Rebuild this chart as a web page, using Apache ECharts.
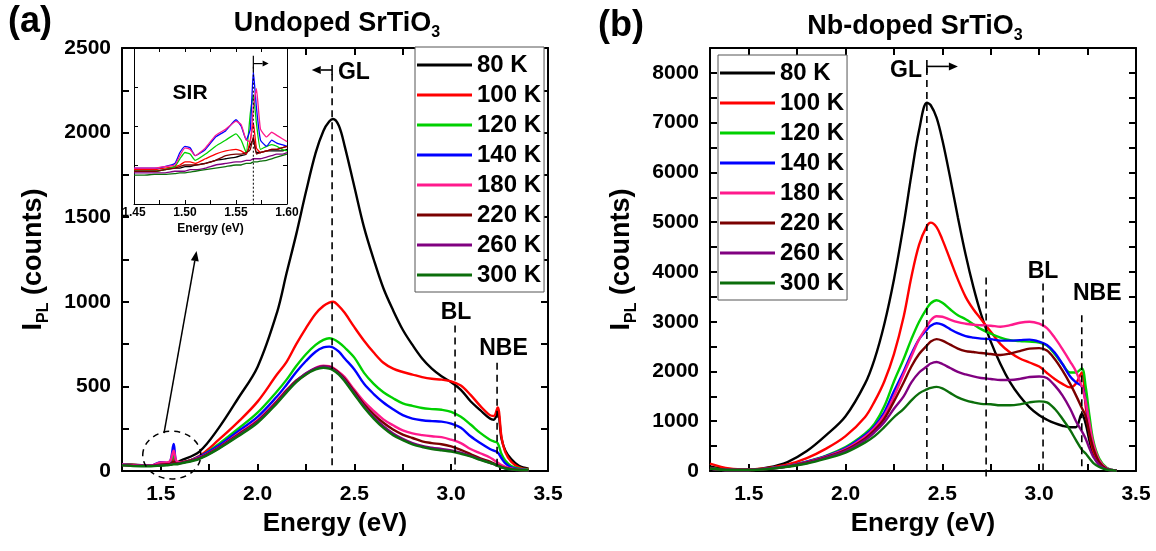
<!DOCTYPE html>
<html><head><meta charset="utf-8">
<script src="https://cdn.jsdelivr.net/npm/echarts@6/dist/echarts.min.js"></script>
<style>html,body{margin:0;padding:0;background:#fff}#c{width:1156px;height:551px}</style>
</head><body><div id="c"></div>
<script>
// ---------- DATA ----------
const names = ['80 K','100 K','120 K','140 K','180 K','220 K','260 K','300 K'];
const colors = ['#000000','#ff0000','#00d000','#0000ff','#ff1a8c','#7a0000','#800080','#0b6e0b'];

// Panel (a): undoped SrTiO3
const energyA = [1.30,1.40,1.45,1.50,1.53,1.55,1.567,1.58,1.60,1.70,1.80,1.90,2.00,2.10,2.15,2.20,2.25,2.30,2.34,2.37,2.39,2.42,2.45,2.50,2.55,2.60,2.65,2.70,2.75,2.80,2.85,2.90,2.95,3.00,3.05,3.10,3.15,3.20,3.22,3.24,3.26,3.28,3.31,3.35,3.40];
const a80  = [40,35,32,35,38,42,55,50,60, 115,255,430,615,935,1170,1400,1650,1880,2010, 2065,2080,2040,1920,1680,1440,1250,1080,950,835, 745,665,605,560,525,480,412,360,310,303, 345,190,120,70,30,14];
const a100 = [40,32,30,45,42,50,75,50,50, 90,185,290,410,570,645,750,845,930,975, 995,1000,975,935,850,770,700,640,605,585, 570,555,545,540,530,505,450,385,330,325, 375,200,110,55,22,10];
const a120 = [38,32,30,48,45,55,95,52,50, 85,160,250,345,470,540,620,690,745,775, 785,780,760,730,670,580,515,465,430,400, 385,372,366,362,350,320,275,225,185,175, 165,100,60,30,15,8];
const a140 = [38,32,32,52,48,60,160,55,50, 85,150,235,320,440,510,585,650,705,730, 735,730,705,665,600,515,455,405,365,330, 310,300,295,292,280,255,205,165,130,120, 110,75,45,22,10,5];
const a180 = [38,32,32,50,50,62,120,60,52, 80,140,220,300,415,480,530,570,610,622, 620,610,585,555,480,410,355,305,270,240, 222,212,205,200,185,165,130,105,80,65, 50,35,25,15,8,5];
const a220 = [35,30,30,38,40,42,55,45,48, 78,138,215,295,410,475,535,575,605,618, 615,605,580,545,470,395,335,285,245,215, 195,175,165,158,145,125,100,75,55,45, 35,25,18,12,6,4];
const a260 = [35,30,30,34,36,38,42,42,46, 75,135,210,290,405,470,530,578,608,618, 612,600,575,538,460,383,318,265,222,190, 165,148,138,130,122,108,90,68,48,40, 30,22,15,10,5,3];
const a300 = [33,28,28,32,34,36,40,40,44, 72,132,205,285,400,465,525,570,600,610, 605,595,570,530,452,375,310,255,212,182, 158,142,130,122,115,102,86,66,48,40, 30,22,15,10,6,4];

// Panel (b): Nb-doped SrTiO3
const energyB = [1.30,1.40,1.50,1.60,1.70,1.80,1.90,2.00,2.10,2.15,2.20,2.25,2.30,2.34,2.38,2.42,2.44,2.47,2.50,2.54,2.58,2.62,2.66,2.70,2.75,2.80,2.85,2.90,2.95,3.00,3.04,3.08,3.12,3.16,3.19,3.22,3.24,3.26,3.28,3.31,3.35,3.40];
const b80  = [90,30,25,70,180,400,720,1100,1750,2250, 2950,3850,4950,5950,6850,7400,7350,7100,6650,5900, 5100,4350,3700,3150,2600,2150,1780,1500,1280,1120, 1030,960,910,880,880,1150,950,600,320,130, 40,10];
const b100 = [150,50,30,60,130,260,450,700,1080,1400, 1800,2350,3100,3900,4550,4920,4990,4900,4650,4250, 3850,3500,3250,3050,2800,2550,2380,2260,2180,2100, 1970,1850,1750,1680,1760,1980,1300,750,400,170, 50,10];
const b120 = [60,20,20,50,100,190,310,480,750,950, 1300,1800,2250,2650,3000,3270,3370,3430,3380,3250, 3130,3050,2950,2850,2760,2680,2630,2610,2600,2580, 2520,2350,2150,1980,1980,2060,1700,1100,600,250, 60,10];
const b140 = [50,20,20,50,100,190,300,460,720,900, 1180,1600,2000,2350,2650,2840,2920,2970,2940,2850, 2770,2710,2680,2660,2650,2620,2620,2630,2640,2600, 2530,2380,2150,1900,1780,1700,1400,900,500,200, 50,10];
const b180 = [50,20,20,50,100,180,290,440,690,870, 1120,1500,1950,2300,2650,2900,3030,3110,3100,3040, 2990,2960,2940,2930,2920,2900,2930,2980,3000,2960, 2870,2680,2450,2200,2000,1700,1400,950,550,220, 50,10];
const b220 = [50,20,20,45,90,170,280,420,650,820, 1050,1400,1780,2100,2350,2520,2600,2650,2620,2540, 2460,2410,2390,2370,2350,2330,2360,2410,2460,2470, 2420,2250,2020,1750,1520,1270,1100,750,450,180, 40,10];
const b260 = [50,20,20,45,90,160,270,400,620,780, 980,1250,1500,1780,1980,2100,2160,2190,2150,2070, 1990,1940,1900,1870,1850,1830,1830,1850,1890,1900, 1870,1720,1520,1250,1000,800,650,450,280,120, 30,5];
const b300 = [50,20,20,40,85,150,250,370,570,700, 880,1080,1250,1420,1560,1640,1670,1690,1660,1570, 1480,1420,1380,1350,1340,1320,1320,1340,1380,1400, 1380,1250,1050,820,620,430,350,250,160,80, 25,5];

// Inset (SIR region of panel a), arbitrary units
const energyI = [1.450,1.460,1.470,1.480,1.490,1.495,1.500,1.505,1.510,1.520,1.530,1.540,1.550,1.555,1.560,1.564,1.567,1.570,1.574,1.580,1.585,1.590,1.595,1.600];
const i80  = [21,21,21,22,23,23,24,24,25,26,28,29,30,31,32,38,41,33,33,34,34,34,34,35];
const i100 = [22,22,22,23,24,25,27,27,26,29,32,34,35,34,32,41,52,36,33,34,35,35,36,37];
const i120 = [21,21,21,22,24,29,33,32,28,32,37,41,45,41,33,58,70,52,35,37,38,37,35,34];
const i140 = [23,23,23,24,26,33,37,36,31,35,43,47,54,50,41,48,85,62,41,37,41,39,38,37];
const i180 = [23,23,23,24,25,31,36,35,31,36,44,48,53,51,41,40,62,74,48,43,46,44,42,40];
const i220 = [21,21,21,22,23,24,25,25,25,26,28,31,32,32,33,35,43,32,33,34,35,35,36,37];
const i260 = [20,20,20,20,21,21,21,22,22,23,25,26,27,27,28,28,29,29,29,30,31,32,32,33];
const i300 = [18.5,18.5,19,19,19.5,20,20,20.5,21,22,23,24,25,25,26,26,27,27,27.5,28,29,30,31,32];

// Axis ticks / labels
const xTicks = [1.5,1.75,2.0,2.25,2.5,2.75,3.0,3.25];
const xLabels = [1.5,2.0,2.5,3.0,3.5];
const yTicksA = [0,250,500,750,1000,1250,1500,1750,2000,2250,2500];
const yLabelsA = [0,500,1000,1500,2000,2500];
const yTicksB = [0,500,1000,1500,2000,2500,3000,3500,4000,4500,5000,5500,6000,6500,7000,7500,8000,8500];
const yLabelsB = [0,1000,2000,3000,4000,5000,6000,7000,8000];
const xTicksI = [1.475,1.5,1.525,1.55,1.575];
const xLabelsI = [1.45,1.50,1.55,1.60];
const yTicksI = [25,50,75];

// ---------- CHART ----------
const FONT = '"Liberation Sans", Arial, Helvetica, sans-serif';
const chart = echarts.init(document.getElementById('c'));

function axisCommon(gi, min, max, ticks, lw, tl, z) {
  return {type:'value', gridIndex:gi, min, max, z,
    splitLine:{show:false},
    axisLine:{show:true, onZero:false, lineStyle:{color:'#000', width:lw}},
    axisTick:{show:true, inside:true, length:tl, customValues:ticks, lineStyle:{color:'#000', width:lw}}};
}
function lbl(vals, fmt, fs, margin) {
  return {show:true, customValues:vals, formatter:fmt, color:'#000', fontFamily:FONT, fontWeight:'bold', fontSize:fs, margin};
}
const ylabRich = {
  i:{fontSize:27, fontWeight:'bold', fontFamily:FONT, color:'#000', lineHeight:36},
  s:{fontSize:16, fontWeight:'bold', fontFamily:FONT, color:'#000', lineHeight:12, verticalAlign:'bottom'}
};
const xName = {name:'Energy (eV)', nameLocation:'middle', nameGap:40, nameMoveOverlap:false,
  nameTextStyle:{fontSize:26, fontWeight:'bold', fontFamily:FONT, color:'#000'}};
const yName = {name:'{i|I}{s|PL}{i| (counts)}', nameLocation:'middle', nameRotate:90, nameGap:70, nameMoveOverlap:false,
  nameTextStyle:{rich:ylabRich}};
const f1 = v => v.toFixed(1), f0 = v => String(v), f2 = v => v.toFixed(2);

const xAxis = [
  Object.assign(axisCommon(0,1.3,3.5,xTicks,2,7,1), {position:'bottom', axisLabel:lbl(xLabels,f1,21,13)}, xName),
  Object.assign(axisCommon(0,1.3,3.5,xTicks,2,7,1), {position:'top', axisLabel:{show:false}}),
  Object.assign(axisCommon(1,1.3,3.5,xTicks,2,7,1), {position:'bottom', axisLabel:lbl(xLabels,f1,21,13)}, xName),
  Object.assign(axisCommon(1,1.3,3.5,xTicks,2,7,1), {position:'top', axisLabel:{show:false}}),
  Object.assign(axisCommon(2,1.45,1.60,xTicksI,1,4,8), {position:'bottom', axisLabel:lbl(xLabelsI,f2,12,3),
     name:'Energy (eV)', nameLocation:'middle', nameGap:19, nameMoveOverlap:false,
     nameTextStyle:{fontSize:12, fontWeight:'bold', fontFamily:FONT, color:'#000'}}),
  Object.assign(axisCommon(2,1.45,1.60,xTicksI,1,4,8), {position:'top', axisLabel:{show:false}})
];
const yAxis = [
  Object.assign(axisCommon(0,0,2500,yTicksA,2,7,1), {position:'left', axisLabel:lbl(yLabelsA,f0,21,11)}, yName),
  Object.assign(axisCommon(0,0,2500,yTicksA,2,7,1), {position:'right', axisLabel:{show:false}}),
  Object.assign(axisCommon(1,0,8500,yTicksB,2,7,1), {position:'left', axisLabel:lbl(yLabelsB,f0,21,11)}, yName),
  Object.assign(axisCommon(1,0,8500,yTicksB,2,7,1), {position:'right', axisLabel:{show:false}}),
  Object.assign(axisCommon(2,0,100,yTicksI,1,4,8), {position:'left', axisLabel:{show:false}}),
  Object.assign(axisCommon(2,0,100,yTicksI,1,4,8), {position:'right', axisLabel:{show:false}})
];

function mkSeries(xs, ysList, xi, yi, width, smooth, z) {
  return ysList.map((ys, k) => ({
    type:'line', name:names[k], xAxisIndex:xi, yAxisIndex:yi,
    data: xs.map((x, i) => [x, ys[i]]),
    showSymbol:false, symbol:'none', smooth, z, silent:true,
    lineStyle:{color:colors[k], width}, itemStyle:{color:colors[k]},
    emphasis:{disabled:true}
  }));
}
const series = [].concat(
  mkSeries(energyA, [a80,a100,a120,a140,a180,a220,a260,a300], 0, 0, 2.4, 0.35, 2),
  mkSeries(energyB, [b80,b100,b120,b140,b180,b220,b260,b300], 2, 2, 2.4, 0.35, 2),
  mkSeries(energyI, [i80,i100,i120,i140,i180,i220,i260,i300], 4, 4, 1.3, 0.15, 9)
);

function legendAt(left, top) {
  return {orient:'vertical', left, top, data:names, icon:'rect', itemWidth:55, itemHeight:3, itemGap:0,
    padding:[3,3,2,2], borderColor:'#555', borderWidth:1, backgroundColor:'#fff', selectedMode:false,
    textStyle:{fontSize:24, fontWeight:'bold', fontFamily:FONT, color:'#000', lineHeight:30}};
}

chart.setOption({
  animation:false,
  backgroundColor:'#fff',
  grid:[
    {left:122, top:48, width:426, height:423, outerBoundsMode:'none'},
    {left:710, top:48, width:426, height:423, outerBoundsMode:'none'},
    {left:134, top:48, width:153, height:156, outerBoundsMode:'none', show:true, backgroundColor:'#fff', borderWidth:0, z:7}
  ],
  xAxis, yAxis, series,
  legend:[legendAt(415,47), legendAt(718,55)]
});

// ---------- ANNOTATIONS (positioned from data coordinates) ----------
const g = [];
const P = (si, x, y) => chart.convertToPixel({seriesIndex:si}, [x, y]);
function seg(si, x1, y1, x2, y2, lw, dash) {
  const a = P(si,x1,y1), b = P(si,x2,y2);
  g.push({type:'line', z:50, silent:true, shape:{x1:a[0],y1:a[1],x2:b[0],y2:b[1]},
    style:{stroke:'#000', lineWidth:lw, lineDash:dash || null}});
}
function arrow(si, x1, y1, x2, y2, lw, hl, hw) {
  const a = P(si,x1,y1), b = P(si,x2,y2);
  const dx = b[0]-a[0], dy = b[1]-a[1], L = Math.hypot(dx,dy), ux = dx/L, uy = dy/L;
  const bx = b[0]-ux*hl, by = b[1]-uy*hl;
  g.push({type:'line', z:50, silent:true, shape:{x1:a[0],y1:a[1],x2:bx,y2:by}, style:{stroke:'#000', lineWidth:lw}});
  g.push({type:'polygon', z:50, silent:true, shape:{points:[[b[0],b[1]],[bx-uy*hw,by+ux*hw],[bx+uy*hw,by-ux*hw]]}, style:{fill:'#000'}});
}
function txt(si, x, y, text, fs, align) {
  const p = P(si,x,y);
  g.push({type:'text', z:50, silent:true, x:p[0], y:p[1],
    style:{text, fontSize:fs, fontWeight:'bold', fontFamily:FONT, fill:'#000', align:align||'center', verticalAlign:'middle'}});
}
const D = [7,5];
// panel (a)
seg(0, 2.385, 2345, 2.385, 0, 1.6, D);
seg(0, 2.385, 2400, 2.385, 2340, 1.6);
arrow(0, 2.385, 2370, 2.28, 2370, 1.6, 9, 4);
txt(0, 2.415, 2355, 'GL', 23, 'left');
seg(0, 3.02, 860, 3.02, 0, 1.6, D);
txt(0, 3.025, 935, 'BL', 23);
seg(0, 3.237, 640, 3.237, 0, 1.6, D);
txt(0, 3.27, 725, 'NBE', 23);
(function(){
  const c = P(0, 1.557, 94), e1 = P(0, 1.707, 94), e2 = P(0, 1.557, 235);
  g.push({type:'ellipse', z:50, silent:true, shape:{cx:c[0], cy:c[1], rx:e1[0]-c[0], ry:c[1]-e2[1]},
    style:{fill:null, stroke:'#000', lineWidth:1.5, lineDash:[6,5]}});
})();
arrow(0, 1.517, 224, 1.685, 1300, 1.5, 10, 4);
// panel (b)
seg(8, 2.42, 8100, 2.42, 0, 1.6, D);
seg(8, 2.42, 8260, 2.42, 8000, 1.6);
arrow(8, 2.42, 8130, 2.58, 8130, 1.6, 9, 4);
txt(8, 2.395, 8040, 'GL', 23, 'right');
seg(8, 2.726, 3890, 2.726, -180, 1.6, D);
seg(8, 3.02, 3770, 3.02, 0, 1.6, D);
txt(8, 3.02, 4010, 'BL', 23);
seg(8, 3.22, 3130, 3.22, 0, 1.6, D);
txt(8, 3.30, 3570, 'NBE', 23);
// inset
seg(16, 1.567, 88, 1.567, 0, 1, [2,2]);
seg(16, 1.567, 95, 1.567, 85, 1.2);
arrow(16, 1.567, 90, 1.582, 90, 1.2, 6, 3);
txt(16, 1.505, 71, 'SIR', 21);

// titles
const richT = {
  t:{fontSize:27, fontWeight:'bold', fontFamily:FONT, fill:'#000', lineHeight:34},
  s:{fontSize:16, fontWeight:'bold', fontFamily:FONT, fill:'#000', lineHeight:12, verticalAlign:'bottom'}
};
g.push({type:'text', z:50, x:8, y:22, style:{text:'(a)', fontSize:36, fontWeight:'bold', fontFamily:FONT, fill:'#000', align:'left', verticalAlign:'middle'}});
g.push({type:'text', z:50, x:598, y:26, style:{text:'(b)', fontSize:36, fontWeight:'bold', fontFamily:FONT, fill:'#000', align:'left', verticalAlign:'middle'}});
g.push({type:'text', z:50, x:337, y:24, style:{text:'{t|Undoped SrTiO}{s|3}', rich:richT, align:'center', verticalAlign:'middle'}});
g.push({type:'text', z:50, x:915, y:27, style:{text:'{t|Nb-doped SrTiO}{s|3}', rich:richT, align:'center', verticalAlign:'middle'}});

chart.setOption({graphic: g});
</script>
</body></html>
